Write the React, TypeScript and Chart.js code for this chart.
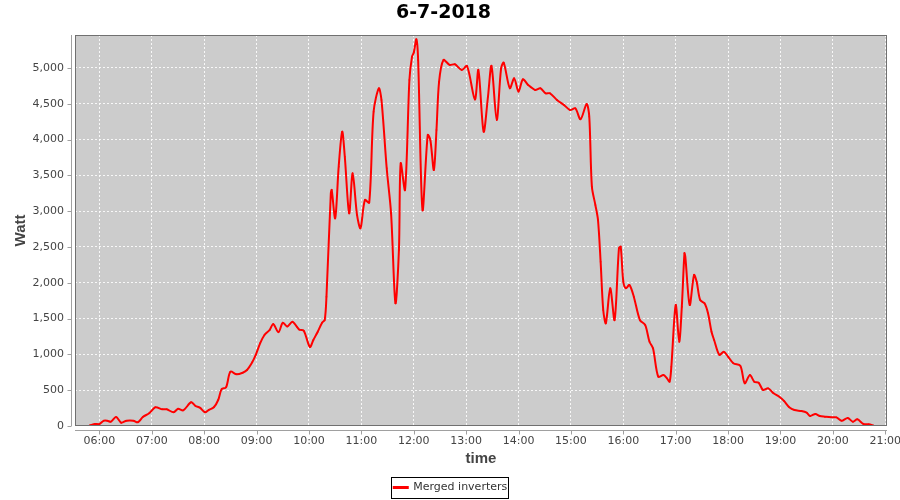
import React, { useEffect, useRef } from "react";
import { Chart, registerables } from "chart.js";

Chart.register(...registerables);

const TITLE = "6-7-2018";
const SERIES_LABEL = "Merged inverters";
const X_TITLE = "time";
const Y_TITLE = "Watt";

const X_MIN = "05:32";
const X_MAX = "21:02";
const Y_MAX = 5460;
const Y_TICKS = [0, 500, 1000, 1500, 2000, 2500, 3000, 3500, 4000, 4500, 5000];
const X_TICK_HOURS = [6, 7, 8, 9, 10, 11, 12, 13, 14, 15, 16, 17, 18, 19, 20, 21];

const times = [
  "05:49", "05:55", "06:00", "06:05", "06:09", "06:13", "06:19", "06:25", "06:31", "06:39",
  "06:44", "06:50", "06:57", "07:04", "07:12", "07:17", "07:25", "07:30", "07:36", "07:45",
  "07:50", "07:55", "08:01", "08:05", "08:11", "08:16", "08:20", "08:25", "08:30", "08:37",
  "08:44", "08:49", "08:55", "08:59", "09:04", "09:09", "09:15", "09:19", "09:25", "09:30",
  "09:35", "09:41", "09:46", "09:49", "09:54", "10:01", "10:05", "10:10", "10:15", "10:18",
  "10:20", "10:25", "10:26", "10:30", "10:34", "10:38", "10:41", "10:46", "10:50", "10:55",
  "10:59", "11:04", "11:09", "11:14", "11:20", "11:23", "11:29", "11:34", "11:39", "11:43",
  "11:45", "11:50", "11:55", "11:58", "12:00", "12:03", "12:05", "12:10", "12:16", "12:19",
  "12:23", "12:26", "12:29", "12:34", "12:41", "12:47", "12:55", "13:01", "13:10", "13:14",
  "13:20", "13:25", "13:29", "13:35", "13:40", "13:43", "13:50", "13:55", "14:00", "14:05",
  "14:11", "14:19", "14:25", "14:31", "14:36", "14:44", "14:52", "14:59", "15:05", "15:11",
  "15:18", "15:21", "15:24", "15:28", "15:31", "15:34", "15:37", "15:40", "15:45", "15:50",
  "15:55", "15:57", "16:00", "16:03", "16:07", "16:12", "16:19", "16:25", "16:30", "16:34",
  "16:40", "16:46", "16:50", "16:53", "16:55", "17:00", "17:04", "17:07", "17:10", "17:11",
  "17:16", "17:21", "17:24", "17:28", "17:33", "17:37", "17:41", "17:44", "17:50", "17:55",
  "18:00", "18:06", "18:14", "18:19", "18:25", "18:30", "18:35", "18:40", "18:46", "18:52",
  "18:59", "19:04", "19:10", "19:16", "19:24", "19:30", "19:34", "19:40", "19:45", "19:51",
  "19:58", "20:04", "20:10", "20:17", "20:23", "20:28", "20:35", "20:41", "20:47",
];

const watts = [
  10, 28, 28, 74, 74, 60, 126, 46, 74, 74,
  52, 130, 177, 261, 233, 233, 191, 242, 219, 331,
  279, 256, 191, 223, 261, 363, 517, 540, 758, 722,
  744, 782, 890, 992, 1155, 1271, 1341, 1425, 1309, 1443,
  1390, 1457, 1387, 1345, 1331, 1104, 1201, 1317, 1443, 1480,
  1806, 3250, 3296, 2901, 3621, 4110, 3761, 2970, 3529, 2947,
  2761, 3156, 3119, 4390, 4716, 4553, 3599, 2970, 1714, 2458,
  3669, 3296, 4832, 5158, 5214, 5401, 5112, 3017, 4064, 3994,
  3575, 4134, 4808, 5112, 5042, 5051, 4972, 5028, 4560, 4972,
  4110, 4599, 5028, 4274, 4995, 5074, 4716, 4855, 4669, 4841,
  4762, 4693, 4716, 4646, 4646, 4553, 4483, 4413, 4437, 4283,
  4497, 4320, 3342, 3086, 2877, 2295, 1620, 1434, 1923, 1480,
  2482, 2504, 2015, 1923, 1969, 1806, 1480, 1411, 1177, 1085,
  689, 712, 665, 619, 828, 1690, 1177, 1666, 2412, 2365,
  1690, 2109, 2015, 1760, 1713, 1574, 1317, 1201, 992, 1038,
  968, 876, 842, 596, 712, 619, 605, 503, 526, 457,
  405, 350, 263, 223, 209, 186, 140, 168, 140, 130,
  121, 121, 74, 112, 60, 93, 28, 23, 5,
];

function toHours(s: string): number {
  const [h, m] = s.split(":").map(Number);
  return h + m / 60;
}

const framePlugin = {
  id: "jfreeFrame",
  afterLayout(chart: any) {
    const lg = chart.legend;
    if (lg) {
      lg.left += 7;
      lg.right += 7;
    }
  },
  beforeDraw(chart: any) {
    const { ctx, chartArea: a } = chart;
    ctx.save();
    ctx.fillStyle = "#cccccc";
    ctx.fillRect(a.left, a.top, a.right - a.left, a.bottom - a.top);
    ctx.restore();
  },
  afterDraw(chart: any) {
    const { ctx, chartArea: a, scales } = chart;
    ctx.save();
    ctx.strokeStyle = "#707070";
    ctx.lineWidth = 1;
    ctx.strokeRect(Math.round(a.left) + 0.5, Math.round(a.top) + 0.5, Math.round(a.right - a.left) - 1, Math.round(a.bottom - a.top) - 1);
    ctx.strokeStyle = "#a0a0a0";
    const ax = Math.round(a.left) - 4 + 0.5;
    const ay = Math.round(a.bottom) + 4 + 0.5;
    ctx.beginPath();
    ctx.moveTo(ax, a.top);
    ctx.lineTo(ax, a.bottom);
    ctx.moveTo(a.left, ay);
    ctx.lineTo(a.right, ay);
    for (const t of scales.y.ticks) {
      const py = Math.round(scales.y.getPixelForValue(t.value)) + 0.5;
      ctx.moveTo(ax - 4, py);
      ctx.lineTo(ax, py);
    }
    for (const t of scales.x.ticks) {
      const px = Math.round(scales.x.getPixelForValue(t.value)) + 0.5;
      ctx.moveTo(px, ay);
      ctx.lineTo(px, ay + 4);
    }
    ctx.stroke();
    const lg = chart.legend;
    if (lg && lg.legendHitBoxes && lg.legendHitBoxes.length) {
      const hb = lg.legendHitBoxes[0];
      const cy = hb.top + hb.height / 2;
      ctx.strokeStyle = "#000000";
      ctx.lineWidth = 1;
      ctx.strokeRect(Math.round(hb.left) - 2.5, Math.round(cy) - 10.5, Math.round(hb.width) + 4, 21);
    }
    ctx.restore();
  },
};

export default function App() {
  const canvasRef = useRef<HTMLCanvasElement | null>(null);

  useEffect(() => {
    const canvas = canvasRef.current;
    if (!canvas) return;
    const points = times.map((t, i) => ({ x: toHours(t), y: watts[i] }));
    const tickFont = { family: "DejaVu Sans", size: 11 };
    const titleFont = { family: "Liberation Sans", size: 15, weight: "bold" as const };
    const chart = new Chart(canvas, {
      type: "line",
      data: {
        datasets: [
          {
            label: SERIES_LABEL,
            data: points,
            borderColor: "#ff0000",
            backgroundColor: "#ff0000",
            borderWidth: 2,
            pointRadius: 1,
            pointStyle: "rect",
            pointBorderWidth: 0,
            pointBackgroundColor: "#ff0000",
            tension: 0.3,
          },
        ],
      },
      options: {
        animation: false,
        responsive: false,
        devicePixelRatio: 1,
        layout: { padding: { left: 0, right: 13, top: 0, bottom: -3 } },
        plugins: {
          title: {
            display: true,
            text: TITLE,
            color: "#000000",
            font: { family: "DejaVu Sans", size: 19, weight: "bold" },
            padding: { top: 2, bottom: 10.2 },
          },
          legend: {
            display: true,
            position: "bottom",
            labels: {
              boxWidth: 14,
              boxHeight: 1,
              color: "#333333",
              font: tickFont,
              padding: 10,
            },
          },
          tooltip: { enabled: false },
        },
        scales: {
          x: {
            type: "linear",
            min: toHours(X_MIN),
            max: toHours(X_MAX),
            afterBuildTicks: (s: any) => {
              s.ticks = X_TICK_HOURS.map((v) => ({ value: v }));
            },
            afterFit: (s: any) => {
              s.height = 46;
              s.paddingLeft = 0;
              s.paddingRight = 0;
            },
            grid: { color: "rgba(255,255,255,0.85)", lineWidth: 1, drawTicks: false },
            border: { display: false, dash: [2, 2] },
            ticks: {
              autoSkip: false,
              maxRotation: 0,
              padding: 9,
              color: "#444444",
              font: tickFont,
              callback: (v: any) => String(Math.round(Number(v))).padStart(2, "0") + ":00",
            },
            title: {
              display: true,
              text: X_TITLE,
              color: "#444444",
              font: titleFont,
              padding: { top: 0, bottom: 4 },
            },
          },
          y: {
            type: "linear",
            min: 0,
            max: Y_MAX,
            afterBuildTicks: (s: any) => {
              s.ticks = Y_TICKS.map((v) => ({ value: v }));
            },
            afterFit: (s: any) => {
              s.width = 75;
              s.paddingTop = 0;
              s.paddingBottom = 0;
            },
            grid: { color: "rgba(255,255,255,0.85)", lineWidth: 1, drawTicks: false },
            border: { display: false, dash: [2, 2] },
            ticks: {
              padding: 11,
              color: "#444444",
              font: tickFont,
              callback: (v: any) => Number(v).toLocaleString("en-US"),
            },
            title: {
              display: true,
              text: Y_TITLE,
              color: "#444444",
              font: titleFont,
              padding: { top: 11.5, bottom: 0 },
            },
          },
        },
      },
      plugins: [framePlugin],
    } as any);
    return () => chart.destroy();
  }, []);

  return (
    <div style={{ position: "fixed", left: 0, top: 0, width: 900, height: 500, background: "#ffffff" }}>
      <canvas ref={canvasRef} width={900} height={500} style={{ display: "block" }} />
    </div>
  );
}
